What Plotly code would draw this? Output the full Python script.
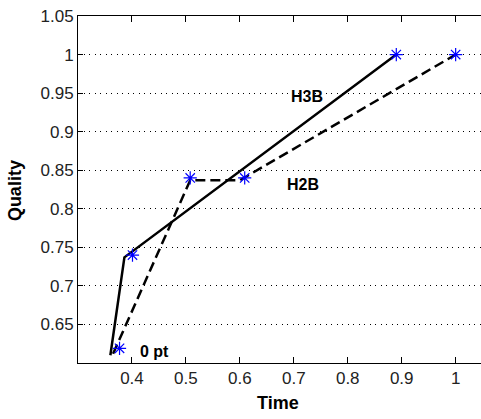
import plotly.graph_objects as go

# Data
h3b_time = [0.360, 0.386, 0.890]
h3b_quality = [0.610, 0.737, 1.000]
h2b_time = [0.365, 0.508, 0.600, 1.000]
h2b_quality = [0.612, 0.837, 0.837, 1.000]
star_time = [0.377, 0.401, 0.508, 0.609, 0.890, 1.000]
star_quality = [0.619, 0.740, 0.840, 0.840, 1.000, 1.000]

x_ticks = [0.4, 0.5, 0.6, 0.7, 0.8, 0.9, 1.0]
x_ticktext = ["0.4", "0.5", "0.6", "0.7", "0.8", "0.9", "1"]
y_ticks = [0.65, 0.7, 0.75, 0.8, 0.85, 0.9, 0.95, 1.0, 1.05]
y_ticktext = ["0.65", "0.7", "0.75", "0.8", "0.85", "0.9", "0.95", "1", "1.05"]

labels = [("H3B", 0.7247, 0.945), ("H2B", 0.7164, 0.831), ("0 pt", 0.4415, 0.615)]

tick_font = dict(family="Liberation Sans, Arial", size=17, color="#222")
bold_font = dict(family="Liberation Sans, Arial", size=18, color="black")

fig = go.Figure()
fig.add_trace(go.Scatter(x=h3b_time, y=h3b_quality, mode="lines",
                         line=dict(color="black", width=2.5), showlegend=False))
fig.add_trace(go.Scatter(x=h2b_time, y=h2b_quality, mode="lines",
                         line=dict(color="black", width=2.5, dash="10px,5px"), showlegend=False))
fig.add_trace(go.Scatter(x=star_time, y=star_quality, mode="markers",
                         marker=dict(symbol="asterisk-open", size=11, color="blue",
                                     line=dict(color="blue", width=1.2)),
                         showlegend=False))
# top axis ticks
fig.add_trace(go.Scatter(x=[0.4], y=[0.8], xaxis="x2", mode="markers",
                         marker=dict(opacity=0), showlegend=False, hoverinfo="skip"))

for txt, xv, yv in labels:
    fig.add_annotation(x=xv, y=yv, text="<b>%s</b>" % txt, showarrow=False,
                       font=dict(family="Liberation Sans, Arial", size=16, color="black"),
                       xanchor="center", yanchor="middle")

fig.add_annotation(xref="paper", yref="paper", x=0.496, y=-0.115, text="<b>Time</b>",
                   showarrow=False, font=bold_font, xanchor="center", yanchor="middle")
fig.add_annotation(xref="paper", yref="paper", x=-0.156, y=0.4957, text="<b>Quality</b>",
                   showarrow=False, font=bold_font, xanchor="center", yanchor="middle",
                   textangle=-90)

x_range = [0.3, 1.047]
fig.update_layout(
    width=481, height=419,
    margin=dict(l=78, r=0, t=16, b=56),
    paper_bgcolor="white", plot_bgcolor="white",
    xaxis=dict(range=x_range, tickvals=x_ticks, ticktext=x_ticktext,
               ticks="inside", ticklen=6, tickcolor="black", tickwidth=1,
               showline=True, linecolor="black", linewidth=1,
               showgrid=False, zeroline=False, tickfont=tick_font),
    xaxis2=dict(range=x_range, overlaying="x", side="top", tickvals=x_ticks,
                ticks="inside", ticklen=6, tickcolor="black", tickwidth=1,
                showline=True, linecolor="black", linewidth=1,
                showticklabels=False, showgrid=False, zeroline=False),
    yaxis=dict(range=[0.6, 1.05], tickvals=y_ticks, ticktext=y_ticktext,
               ticks="inside", ticklen=5, tickcolor="black", tickwidth=1,
               showline=True, linecolor="black", linewidth=1,
               showgrid=True, gridcolor="black", gridwidth=1, griddash="1px,4.5px",
               zeroline=False, tickfont=tick_font),
)

fig.write_html("out.html", config={"displayModeBar": False},
               post_script="document.body.style.margin='0';document.body.style.overflow='hidden';")
